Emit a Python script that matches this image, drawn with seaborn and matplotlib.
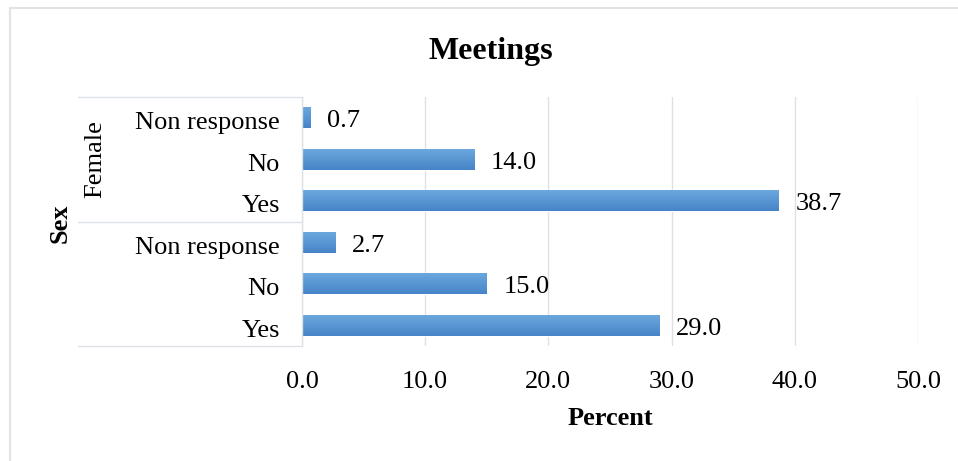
import numpy as np
import pandas as pd
import matplotlib
matplotlib.use("Agg")
import matplotlib.pyplot as plt
import matplotlib.transforms as mtransforms
from matplotlib.colors import LinearSegmentedColormap
import seaborn as sns

# ---- data ----
groups = ["Female", "Female", "Female", "", "", ""]
group_names = ["Female", ""]
responses = ["Non response", "No", "Yes", "Non response", "No", "Yes"]
percent = [0.7, 14.0, 38.7, 2.7, 15.0, 29.0]
xticks = [0, 10, 20, 30, 40, 50]
title = "Meetings"
xlabel = "Percent"
ylabel = "Sex"

sns.set_theme(style="white")
plt.rcParams['font.family'] = ['Liberation Serif', 'DejaVu Serif']
plt.rcParams['text.color'] = 'black'

df = pd.DataFrame({"key": [f"{g}|{r}|{i}" for i, (g, r) in enumerate(zip(groups, responses))],
                   "resp": responses, "pct": percent})

fig = plt.figure(figsize=(9.58, 4.61), dpi=100)
W, H = 958, 461
ax = fig.add_axes([302 / W, 1 - 346 / H, (918 - 302) / W, (346 - 97) / H])

sns.barplot(data=df, y="key", x="pct", orient="h", color="#5B9BD5",
            width=0.5, ax=ax, saturation=1)

# gradient fill on bars
cmap = LinearSegmentedColormap.from_list("g", ["#6CA7DE", "#4584C7"])
grad = np.linspace(0, 1, 64).reshape(-1, 1)
for p in ax.patches:
    x0, y0 = p.get_x(), p.get_y()
    w, h = p.get_width(), p.get_height()
    im = ax.imshow(grad, cmap=cmap, aspect="auto",
                   extent=[x0, x0 + w, y0 + h, y0], origin="upper", zorder=2)
    im.set_clip_path(p)

FS = 19
ax.set_xlim(0, 50)
ax.set_ylim(5.5, -0.5)
ax.set_xticks(xticks)
ax.set_xticklabels([f"{v:.1f}" for v in xticks])
ax.set_yticks(range(len(responses)))
ax.set_yticklabels(responses)
ax.tick_params(axis="y", length=0, pad=16, labelsize=FS, labelcolor="black")
ax.tick_params(axis="x", length=0, pad=18, labelsize=FS, labelcolor="black")
shift = mtransforms.ScaledTranslation(0, -3 / 100, fig.dpi_scale_trans)
for lab in ax.get_yticklabels():
    lab.set_transform(lab.get_transform() + shift)
ax.grid(axis="x", color="#DDE1E6", linewidth=1)
ax.set_axisbelow(True)
for s in ["top", "right", "bottom"]:
    ax.spines[s].set_visible(False)
ax.spines["left"].set_color("#DDE1E6")
ax.spines["left"].set_linewidth(1)
ax.set_ylabel("")
ax.set_xlabel(xlabel, fontsize=19, fontweight="bold", labelpad=10, color="black")

for c in ax.containers:
    anns = ax.bar_label(c, labels=[f"{v:.1f}" for v in percent], padding=12,
                        fontsize=FS, color="black")
    for a in anns:
        a.xyann = (12, -2.5)

# group separators in the category label area
xl = (78 - 302) / (918 - 302)
for yy in [1.0, 0.5, 0.0]:
    ax.plot([xl, 0], [yy, yy], transform=ax.transAxes, color="#DDE1E6",
            linewidth=1, clip_on=False)

trans = mtransforms.blended_transform_factory(ax.transAxes, ax.transData)
gx = (95 - 302) / (918 - 302)
for gi, gname in enumerate(group_names):
    ax.text(gx, gi * 3 + 1, gname, transform=trans, rotation=90,
            ha="center", va="center", fontsize=FS, color="black")

fig.text(60 / W, 1 - 223 / H, ylabel, rotation=90, ha="center", va="center",
         fontsize=19, fontweight="bold", color="black")
fig.text(491 / W, 1 - 51 / H, title, ha="center", va="center",
         fontsize=23, fontweight="bold", color="black")

# outer chart frame (left and top edges visible)
fig.add_artist(plt.Line2D([9.5 / W, 9.5 / W], [0, 1 - 8.5 / H], color="#E0E3E8",
                          linewidth=1.5, transform=fig.transFigure))
fig.add_artist(plt.Line2D([9.5 / W, 1], [1 - 8.5 / H, 1 - 8.5 / H], color="#E0E3E8",
                          linewidth=1.5, transform=fig.transFigure))

fig.savefig("out.png", dpi=100)
